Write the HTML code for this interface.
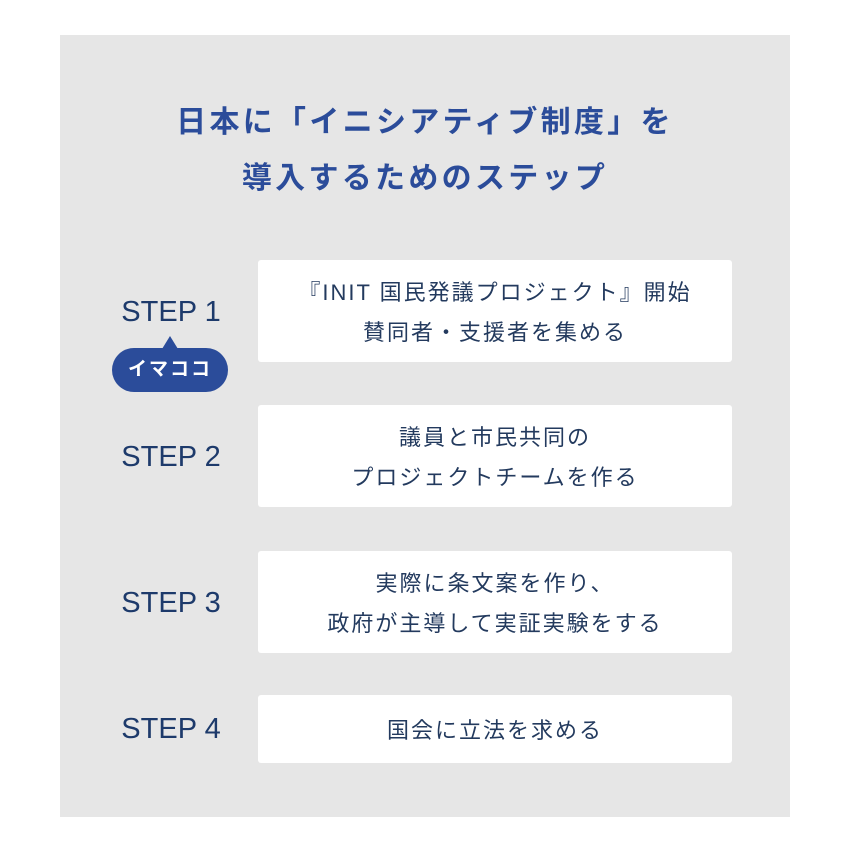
<!DOCTYPE html>
<html><head><meta charset="utf-8"><style>
body{margin:0;width:850px;height:850px;background:#fff;position:relative;font-family:"Liberation Sans","Noto Sans CJK JP",sans-serif;}
.bg{position:absolute;left:60px;top:35px;width:730px;height:782px;background:#e6e6e6;}
.t{position:absolute;left:0;width:850px;text-align:center;color:#2b4c9a;font-weight:bold;font-size:30px;letter-spacing:3.3px;line-height:40px;}
.box{position:absolute;left:258px;width:474px;background:#fff;border-radius:3px;color:#233a5e;font-size:22px;line-height:40px;text-align:center;display:flex;align-items:center;justify-content:center;letter-spacing:2px;padding-top:4px;box-sizing:border-box;}
.st{position:absolute;left:106px;width:130px;text-align:center;color:#1d3a6b;font-size:29px;line-height:40px;}
.pill{position:absolute;left:112px;top:348px;width:116px;height:44px;border-radius:22px;background:#2b4c9a;color:#fff;font-size:19px;line-height:44px;text-align:center;font-weight:bold;letter-spacing:2px;}
.tri{position:absolute;left:162px;top:336px;width:0;height:0;border-left:8px solid transparent;border-right:8px solid transparent;border-bottom:13px solid #2b4c9a;}
</style></head><body>
<div class="bg"></div>
<div class="t" style="top:103px">日本に「イニシアティブ制度」を</div>
<div class="t" style="top:159px">導入するためのステップ</div>

<div class="st" style="top:292px">STEP 1</div>
<div class="tri"></div>
<div class="pill">イマココ</div>
<div class="box" style="top:260px;height:102px">『INIT 国民発議プロジェクト』開始<br>賛同者・支援者を集める</div>

<div class="st" style="top:437px">STEP 2</div>
<div class="box" style="top:405px;height:102px">議員と市民共同の<br>プロジェクトチームを作る</div>

<div class="st" style="top:583px">STEP 3</div>
<div class="box" style="top:551px;height:102px">実際に条文案を作り、<br>政府が主導して実証実験をする</div>

<div class="st" style="top:709px">STEP 4</div>
<div class="box" style="top:695px;height:68px">国会に立法を求める</div>
</body></html>
